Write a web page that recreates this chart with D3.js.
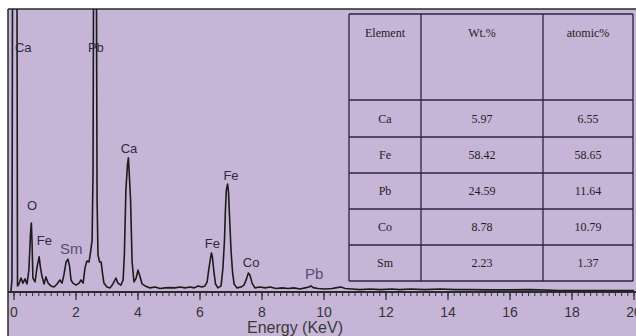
<!DOCTYPE html>
<html><head><meta charset="utf-8">
<script src="https://cdn.jsdelivr.net/npm/d3@7"></script>
<style>html,body{margin:0;padding:0;background:#fff;}svg{display:block;}</style>
</head><body><svg id="c" width="636" height="336"></svg>
<script>
// Spectrum: energy (keV) and counts (arbitrary units)
const energy = [-0.097,-0.065,-0.048,0.097,0.113,0.16,0.226,0.29,0.355,0.42,0.48,0.53,0.56,0.58,0.61,0.68,0.74,0.81,0.855,0.90,0.97,1.03,1.10,1.19,1.29,1.39,1.48,1.55,1.61,1.68,1.74,1.79,1.84,1.90,2.0,2.10,2.16,2.23,2.29,2.35,2.42,2.47,2.52,2.55,2.565,2.66,2.68,2.71,2.76,2.81,2.85,2.90,3.0,3.10,3.19,3.29,3.35,3.45,3.52,3.56,3.61,3.66,3.69,3.72,3.76,3.81,3.87,3.94,4.0,4.06,4.13,4.23,4.39,4.55,4.71,4.87,5.03,5.19,5.35,5.52,5.68,5.81,5.94,6.06,6.16,6.23,6.29,6.34,6.37,6.40,6.45,6.50,6.58,6.68,6.74,6.79,6.82,6.85,6.89,6.92,6.95,7.0,7.05,7.10,7.19,7.32,7.42,7.50,7.56,7.61,7.68,7.77,7.94,8.1,8.26,8.45,8.65,8.84,9.03,9.23,9.39,9.52,9.58,9.65,9.81,10.03,10.26,10.42,10.55,10.68,10.9,11.16,11.48,11.81,12.19,12.45,12.77,13.26,13.74,14.23,14.71,15.35,16.0,16.65,17.6,18.9,20.0];
const counts = [0,39,1050,1050,18,25,46,28,43,25,74,199,241,181,46,32,82,121,82,53,25,50,28,18,14,25,39,28,57,103,113,89,39,28,21,28,39,28,82,106,103,138,181,429,1050,1050,323,128,103,103,67,28,14,11,25,46,28,21,39,128,358,447,472,411,323,103,32,46,74,53,25,18,11,14,9,11,12,11,14,11,14,11,18,14,18,32,82,117,135,121,67,25,11,18,82,181,287,358,379,351,270,145,67,25,11,14,21,43,64,57,28,11,14,11,14,9,11,9,11,7,11,14,18,12,9,7,9,12,14,9,7,5,7,5,7,5,7,5,7,5,5,4,4,5,2,2,2];

// Peak labels
const peakNames = ["Ca","Pb","Ca","O","Fe","Sm","Fe","Fe","Co","Pb"];
const peakEnergy = [0.3,2.64,3.71,0.58,0.98,1.85,7.0,6.40,7.65,9.68];
const peakCount = [862,862,504,305,181,149,411,170,103,60];
const peakMuted = [false,false,false,false,false,true,false,false,false,true];

// Table
const tableHeader = ["Element","Wt.%","atomic%"];
const elements = ["Ca","Fe","Pb","Co","Sm"];
const wtPct = ["5.97","58.42","24.59","8.78","2.23"];
const atomicPct = ["6.55","58.65","11.64","10.79","1.37"];

const xTicks = [0,2,4,6,8,10,12,14,16,18,20];

const svg = d3.select("#c");
const bg = "#c7b5d8";
svg.append("rect").attr("x",8).attr("y",9).attr("width",628).attr("height",327).attr("fill",bg);
// frame
svg.append("line").attr("x1",8).attr("x2",636).attr("y1",9).attr("y2",9).attr("stroke","#2a2a2a").attr("stroke-width",1.5);
svg.append("line").attr("x1",8).attr("x2",8).attr("y1",9).attr("y2",336).attr("stroke","#2a2a2a").attr("stroke-width",1.5);

const x = d3.scaleLinear().domain([0,20]).range([14,634]);
const y = d3.scaleLinear().domain([0,1000]).range([291,9]);

svg.append("clipPath").attr("id","clip").append("rect").attr("x",9).attr("y",9).attr("width",627).attr("height",284);

const pts = energy.map((e,i)=>[e,counts[i]]);
svg.append("path").datum(pts).attr("clip-path","url(#clip)")
  .attr("d", d3.line().x(d=>x(d[0])).y(d=>y(d[1])))
  .attr("fill","none").attr("stroke","#1c1c1c").attr("stroke-width",1.6).attr("stroke-linejoin","round");

// axis
const axisY = 292;
svg.append("line").attr("x1",8).attr("x2",636).attr("y1",axisY).attr("y2",axisY).attr("stroke","#2a2a2a").attr("stroke-width",2);
const minor = d3.range(0,20.001,0.2);
svg.selectAll("line.minor").data(minor).enter().append("line")
  .attr("x1",d=>x(d)).attr("x2",d=>x(d)).attr("y1",axisY).attr("y2",axisY+4)
  .attr("stroke","#333").attr("stroke-width",1);
svg.selectAll("line.major").data(xTicks).enter().append("line")
  .attr("x1",d=>x(d)).attr("x2",d=>x(d)).attr("y1",axisY).attr("y2",axisY+8)
  .attr("stroke","#333").attr("stroke-width",1.3);
svg.selectAll("text.tick").data(xTicks).enter().append("text")
  .attr("x",d=>x(d)).attr("y",317).attr("text-anchor","middle")
  .attr("font-family","Liberation Sans, Arial, sans-serif").attr("font-size",14).attr("fill","#333")
  .text(d=>d);
svg.append("text").attr("x",295).attr("y",333).attr("text-anchor","middle")
  .attr("font-family","Liberation Sans, Arial, sans-serif").attr("font-size",16).attr("fill","#3a3a3a")
  .text("Energy (KeV)");

// peak labels
svg.selectAll("text.peak").data(peakNames).enter().append("text")
  .attr("x",(d,i)=>x(peakEnergy[i])).attr("y",(d,i)=>y(peakCount[i]))
  .attr("dy","0.35em").attr("text-anchor","middle")
  .attr("font-family","Liberation Sans, Arial, sans-serif")
  .attr("font-size",(d,i)=>peakMuted[i]?15:13)
  .attr("fill",(d,i)=>peakMuted[i]?"#5a4a70":"#2c2c3a")
  .text(d=>d);

// table
const tx = [349,421,543,633];
const ty = [14,100,137,173,209,245,281];
const tg = svg.append("g");
const lineCol = "#2b2340";
ty.forEach(v=>tg.append("line").attr("x1",tx[0]).attr("x2",tx[3]).attr("y1",v).attr("y2",v).attr("stroke",lineCol).attr("stroke-width",1.3));
tx.forEach(v=>tg.append("line").attr("x1",v).attr("x2",v).attr("y1",ty[0]).attr("y2",ty[6]).attr("stroke",lineCol).attr("stroke-width",1.3));
const font = "Liberation Serif, Times New Roman, serif";
tableHeader.forEach((h,j)=>tg.append("text").attr("x",(tx[j]+tx[j+1])/2).attr("y",33).attr("dy","0.35em")
  .attr("text-anchor","middle").attr("font-family",font).attr("font-size",12).attr("fill","#222").text(h));
const cols = [elements, wtPct, atomicPct];
cols.forEach((col,j)=>col.forEach((v,i)=>tg.append("text").attr("x",(tx[j]+tx[j+1])/2).attr("y",(ty[i+1]+ty[i+2])/2).attr("dy","0.35em")
  .attr("text-anchor","middle").attr("font-family",font).attr("font-size",12).attr("fill","#222").text(v)));
</script></body></html>
